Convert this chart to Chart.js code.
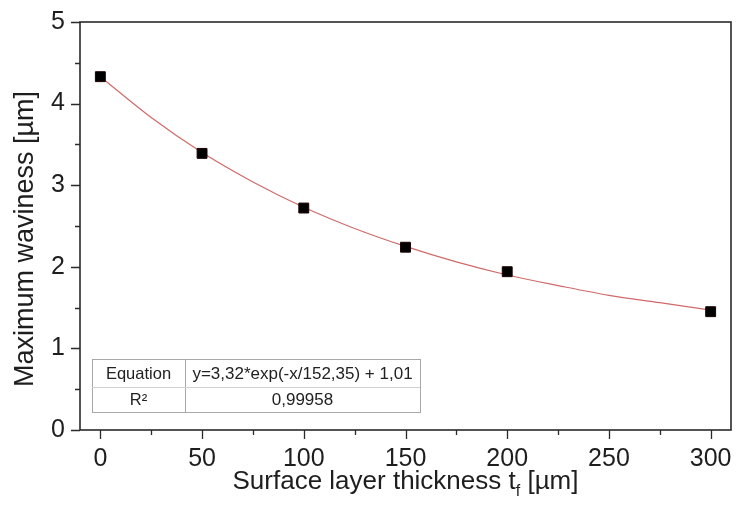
<!DOCTYPE html>
<html>
<head>
<meta charset="utf-8">
<script src="https://cdn.jsdelivr.net/npm/chart.js@4.4.1/dist/chart.umd.min.js"></script>
<style>
  html, body { margin: 0; padding: 0; background: #fff; }
  #wrap { width: 739px; height: 508px; }
</style>
</head>
<body>
<div id="wrap"><canvas id="chart" width="739" height="508"></canvas></div>
<script>
// measured points
const thickness = [0, 50, 100, 150, 200, 300];
const waviness = [4.33, 3.39, 2.72, 2.24, 1.94, 1.45];

// exponential fit curve
const fitX = [0, 25, 50, 75, 100, 125, 150, 175, 200, 225, 250, 275, 300];
const fitY = [4.33, 3.83, 3.40, 3.04, 2.73, 2.47, 2.25, 2.06, 1.90, 1.77, 1.65, 1.56, 1.47];

const xTicks = [0, 50, 100, 150, 200, 250, 300];
const yTicks = [0, 1, 2, 3, 4, 5];

const yTitle = 'Maximum waviness [\u00b5m]';
const tableRows = [
    ['Equation', 'y=3,32*exp(-x/152,35) + 1,01'],
    ['R\u00b2', '0,99958']
];

const FONT = '"Liberation Sans", Arial, sans-serif';
const INK = '#1e1e1e';

// frame, minor/major ticks, axis titles and the fit table
const framePlugin = {
    id: 'frame',
    afterDraw(chart) {
        const ctx = chart.ctx;
        const a = chart.chartArea;
        const xs = chart.scales.x, ys = chart.scales.y;
        ctx.save();
        ctx.strokeStyle = '#2a2a2a';
        ctx.lineWidth = 1.6;
        ctx.strokeRect(a.left, a.top, a.right - a.left, a.bottom - a.top);

        ctx.lineWidth = 1.3;
        ctx.beginPath();
        for (let v = 0; v <= 300; v += 25) {
            const px = Math.round(xs.getPixelForValue(v)) + 0.5;
            const len = v % 50 === 0 ? 9 : 5;
            ctx.moveTo(px, a.bottom);
            ctx.lineTo(px, a.bottom + len);
        }
        for (let v = 0; v <= 5; v += 0.5) {
            const py = Math.round(ys.getPixelForValue(v)) + 0.5;
            const len = Number.isInteger(v) ? 9 : 5;
            ctx.moveTo(a.left, py);
            ctx.lineTo(a.left - len, py);
        }
        ctx.stroke();

        // y axis title
        ctx.fillStyle = INK;
        ctx.save();
        ctx.translate(33, 239);
        ctx.rotate(-Math.PI / 2);
        ctx.font = '27px ' + FONT;
        ctx.textAlign = 'center';
        ctx.textBaseline = 'alphabetic';
        ctx.fillText(yTitle, 0, 0);
        ctx.restore();

        // x axis title: Surface layer thickness t_f [µm]
        const big = '26px ' + FONT, small = '16px ' + FONT;
        const p1 = 'Surface layer thickness t', p2 = 'f', p3 = ' [\u00b5m]';
        ctx.font = big;
        const w1 = ctx.measureText(p1).width, w3 = ctx.measureText(p3).width;
        ctx.font = small;
        const w2 = ctx.measureText(p2).width;
        let x = (a.left + a.right) / 2 - (w1 + w2 + w3) / 2;
        const base = 489;
        ctx.textAlign = 'left';
        ctx.textBaseline = 'alphabetic';
        ctx.font = big;
        ctx.fillText(p1, x, base);
        x += w1;
        ctx.font = small;
        ctx.fillText(p2, x, base + 7);
        x += w2;
        ctx.font = big;
        ctx.fillText(p3, x, base);

        // table
        const tx = a.left + 12, ty = a.bottom - 71;
        const c1 = 93, c2 = 235, rh = [28, 25];
        ctx.fillStyle = '#fff';
        ctx.fillRect(tx, ty, c1 + c2, rh[0] + rh[1]);
        ctx.strokeStyle = '#a8a8a8';
        ctx.lineWidth = 1;
        ctx.strokeRect(tx + 0.5, ty + 0.5, c1 + c2, rh[0] + rh[1]);
        ctx.beginPath();
        ctx.moveTo(tx + c1 + 0.5, ty);
        ctx.lineTo(tx + c1 + 0.5, ty + rh[0] + rh[1]);
        ctx.stroke();
        ctx.strokeStyle = '#d0d0d0';
        ctx.beginPath();
        ctx.moveTo(tx, ty + rh[0] + 0.5);
        ctx.lineTo(tx + c1 + c2, ty + rh[0] + 0.5);
        ctx.stroke();
        ctx.fillStyle = '#222';
        ctx.textAlign = 'center';
        ctx.textBaseline = 'middle';
        let y = ty;
        tableRows.forEach((row, i) => {
            ctx.font = '16.5px ' + FONT;
            ctx.fillText(row[0], tx + c1 / 2, y + rh[i] / 2 + 1);
            ctx.font = '17px ' + FONT;
            ctx.fillText(row[1], tx + c1 + c2 / 2, y + rh[i] / 2 + 1);
            y += rh[i];
        });
        ctx.restore();
    }
};

const ctx = document.getElementById('chart').getContext('2d');
new Chart(ctx, {
    type: 'scatter',
    data: {
        datasets: [
            {
                label: 'Fit',
                data: fitX.map((x, i) => ({ x: x, y: fitY[i] })),
                showLine: true,
                borderColor: '#d06a6a',
                borderWidth: 1.2,
                pointRadius: 0,
                cubicInterpolationMode: 'monotone',
                order: 2
            },
            {
                label: 'Maximum waviness',
                data: thickness.map((x, i) => ({ x: x, y: waviness[i] })),
                pointStyle: 'rect',
                pointRadius: 7,
                backgroundColor: '#000',
                borderColor: '#1a0000',
                borderWidth: 1,
                order: 1
            }
        ]
    },
    options: {
        responsive: false,
        animation: false,
        layout: { padding: { top: 10, right: 5, left: 0, bottom: 0 } },
        plugins: {
            legend: { display: false },
            tooltip: { enabled: false }
        },
        scales: {
            x: {
                type: 'linear',
                min: -10,
                max: 310,
                afterBuildTicks: s => { s.ticks = xTicks.map(v => ({ value: v })); },
                afterFit: s => { s.height = 78; s.paddingRight = 0; s.paddingLeft = 0; },
                grid: { display: false },
                border: { display: false },
                ticks: {
                    color: INK,
                    font: { family: FONT, size: 25 },
                    padding: 6,
                    maxRotation: 0
                },
                title: { display: false }
            },
            y: {
                min: 0,
                max: 5,
                afterBuildTicks: s => { s.ticks = yTicks.map(v => ({ value: v })); },
                afterFit: s => { s.width = 80; },
                grid: { display: false },
                border: { display: false },
                ticks: {
                    color: INK,
                    font: { family: FONT, size: 25 },
                    padding: 7
                },
                title: { display: false }
            }
        }
    },
    plugins: [framePlugin]
});
</script>
</body>
</html>
